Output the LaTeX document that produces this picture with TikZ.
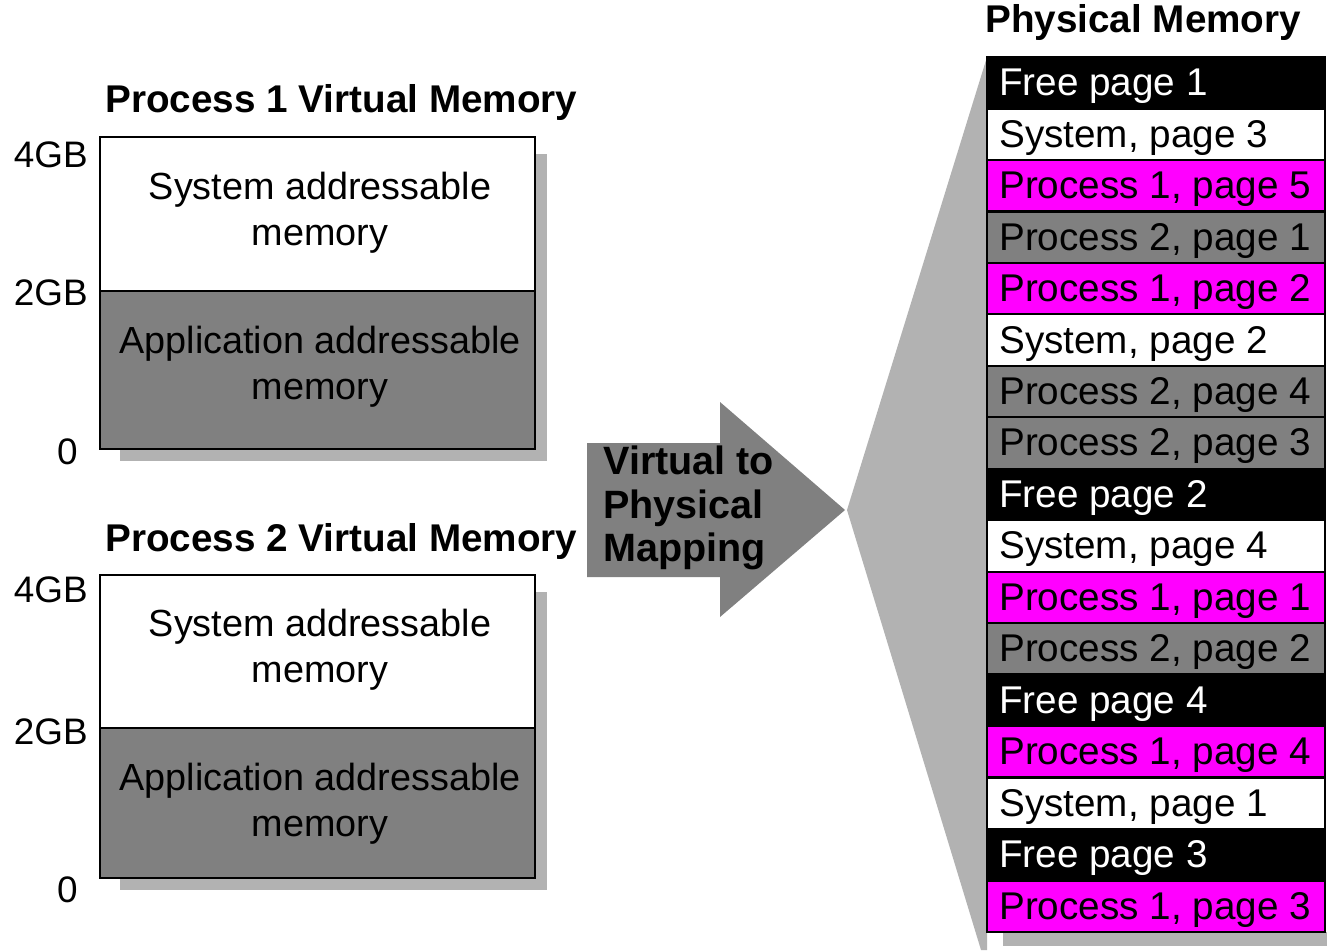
\documentclass[tikz,border=0pt]{standalone}
\usepackage{fontspec}
\setmainfont{Liberation Sans}
\usetikzlibrary{positioning}

\definecolor{memgray}{HTML}{808080}
\definecolor{memmagenta}{HTML}{FF00FF}
\colorlet{shadowgray}{black!30}

\tikzset{
  boxtext/.style={font=\fontsize{21.5}{26}\selectfont, align=center},
  titletext/.style={font=\bfseries\fontsize{22}{25}\selectfont, anchor=west, inner sep=0pt},
  sizelabel/.style={font=\fontsize{21}{25}\selectfont, anchor=east, inner sep=0pt},
  boxline/.style={draw=black, line width=1.5pt},
  shadow/.style={fill=shadowgray, draw=none},
  pagebox/.style={draw=black, line width=1.3pt, minimum width=6.76cm, minimum height=1.03cm,
    inner sep=0pt},
  pagelabel/.style={anchor=west, inner sep=0pt, xshift=0.26cm, yshift=-0.07cm,
    font=\fontsize{22}{26}\selectfont},
  freepg/.style={pagebox, fill=black},
  syspg/.style={pagebox, fill=white},
  procapg/.style={pagebox, fill=memmagenta},
  procbpg/.style={pagebox, fill=memgray}
}

\begin{document}
\begin{tikzpicture}[x=0.02cm, y=-0.02cm]

% background
\fill[white] (0,0) rectangle (1327,950);
\useasboundingbox (0,0) rectangle (1327,950);

% process 1 virtual memory
\node (p1title) at (105,103) [titletext] {Process 1 Virtual Memory};
\fill[shadow] (120,154) rectangle (547,461);
\fill[white] (100,137) rectangle (535,291);
\fill[memgray] (100,291) rectangle (535,449);
\draw[boxline] (100,137) rectangle (535,449);
\draw[boxline] (100,291) -- (535,291);
\node (p1sys) at (320,213) [boxtext] {System addressable\\memory};
\node (p1app) at (320,367) [boxtext] {Application addressable\\memory};
\node (p1top) at (88,155) [sizelabel] {4GB};
\node (p1mid) at (88,293) [sizelabel] {2GB};
\node (p1zero) at (78,452) [sizelabel] {0};

% process 2 virtual memory
\node (p2title) at (105,541) [titletext] {Process 2 Virtual Memory};
\fill[shadow] (120,592) rectangle (547,890);
\fill[white] (100,575) rectangle (535,728);
\fill[memgray] (100,728) rectangle (535,878);
\draw[boxline] (100,575) rectangle (535,878);
\draw[boxline] (100,728) -- (535,728);
\node (p2sys) at (320,650) [boxtext] {System addressable\\memory};
\node (p2app) at (320,804) [boxtext] {Application addressable\\memory};
\node (p2top) at (88,590) [sizelabel] {4GB};
\node (p2mid) at (88,732) [sizelabel] {2GB};
\node (p2zero) at (78,890) [sizelabel] {0};

% mapping arrow
\fill[memgray] (587,443) -- (720,443) -- (720,402) -- (845,510)
  -- (720,617) -- (720,577) -- (587,577) -- cycle;
\node (maptext) at (603,508) [anchor=west, inner sep=0pt, align=left,
  font=\bfseries\fontsize{22.5}{22}\selectfont] {Virtual to\\[0.1cm]Physical\\[0.1cm]Mapping};

% fan and shadow of the physical memory
\fill[shadow] (847,510) -- (987,57) -- (987,950) -- (981,950) -- cycle;
\fill[shadow] (1003,932) rectangle (1327,946);

% physical memory pages
\node (pmtitle) at (985,23) [titletext] {Physical Memory};
\foreach \kind/\ink/\lbl [count=\i from 0] in {
    freepg/white/Free page 1, syspg/black/{System, page 3}, procapg/black/{Process 1, page 5},
    procbpg/black/{Process 2, page 1}, procapg/black/{Process 1, page 2}, syspg/black/{System, page 2},
    procbpg/black/{Process 2, page 4}, procbpg/black/{Process 2, page 3}, freepg/white/Free page 2,
    syspg/black/{System, page 4}, procapg/black/{Process 1, page 1}, procbpg/black/{Process 2, page 2},
    freepg/white/Free page 4, procapg/black/{Process 1, page 4}, syspg/black/{System, page 1},
    freepg/white/Free page 3, procapg/black/{Process 1, page 3}}
{
  \node (pm\i) at (1156, 57+51.47*\i+25.7) [\kind] {};
  \node (pml\i) at (pm\i.west) [pagelabel, text=\ink] {\lbl};
}
\draw[line width=1.5pt] (987,57) rectangle (1325,932);

\end{tikzpicture}
\end{document}
